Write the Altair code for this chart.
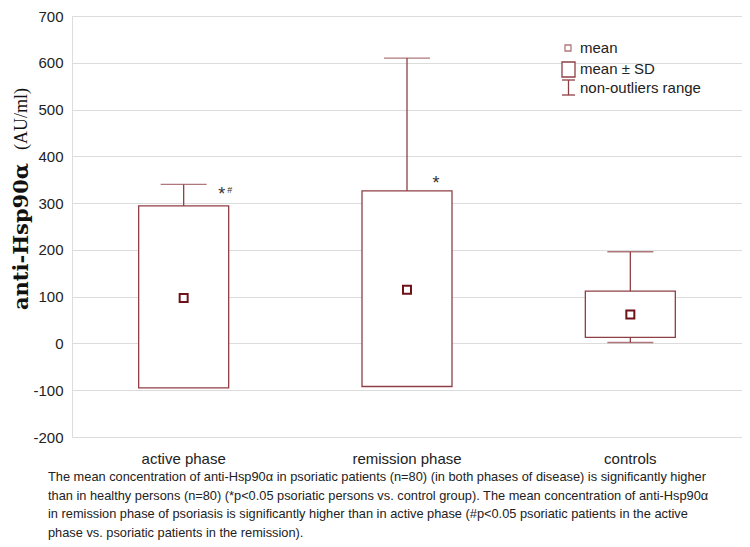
import altair as alt
import pandas as pd

# ---- data ----
categories = ["active phase", "remission phase", "controls"]
means = [97, 115, 62]
sd_low = [-95, -92, 13]
sd_high = [294, 326, 112]
range_min = [4, 4, 2]
range_max = [340, 610, 196]

y_ticks = [-200, -100, 0, 100, 200, 300, 400, 500, 600, 700]

caption_lines = [
    "The mean concentration of anti-Hsp90\u03b1 in psoriatic patients (n=80) (in both phases of disease) is significantly higher",
    "than in healthy persons (n=80) (*p<0.05 psoriatic persons vs. control group). The mean concentration of anti-Hsp90\u03b1",
    "in remission phase of psoriasis is significantly higher than in active phase (#p<0.05 psoriatic patients in the active",
    "phase vs. psoriatic patients in the remission).",
]

df = pd.DataFrame({
    "cat": categories,
    "mean": means,
    "sd_low": sd_low,
    "sd_high": sd_high,
    "rmin": range_min,
    "rmax": range_max,
})

W, H = 670, 421
BOX = "#8e3f45"
MEAN = "#6e1218"
FONT = "Liberation Sans"

x = alt.X("cat:N", sort=categories, title=None,
          scale=alt.Scale(paddingInner=0, paddingOuter=0),
          axis=alt.Axis(labelAngle=0, labelFontSize=15, labelFont=FONT, labelColor="#222",
                        labelPadding=14, ticks=False, domain=False, grid=False))
yscale = alt.Scale(domain=[-200, 700], nice=False, zero=False)
y = alt.Y("rmin:Q", scale=yscale, title=None,
          axis=alt.Axis(values=y_ticks, labelFontSize=15, labelFont=FONT, labelColor="#222",
                        labelExpr="'' + datum.value",
                        labelPadding=9, ticks=False, domain=False, gridColor="#dcdcdc",
                        gridWidth=1))

base = alt.Chart(df)

whisker = base.mark_rule(color=BOX, strokeWidth=1.3).encode(x=x, y=y, y2="rmax:Q")
cap_top = base.mark_tick(color=BOX, size=46, thickness=1.3).encode(
    x=x, y=alt.Y("rmax:Q", scale=yscale))
cap_bot = base.mark_tick(color=BOX, size=46, thickness=1.3).encode(
    x=x, y=alt.Y("rmin:Q", scale=yscale))
box = base.mark_bar(fill="white", stroke=BOX, strokeWidth=1.3, size=90).encode(
    x=x, y=alt.Y("sd_low:Q", scale=yscale), y2="sd_high:Q")
mean_pt = base.mark_point(shape="square", size=64, filled=False, fill="white",
                          fillOpacity=1, color=MEAN, strokeWidth=2, opacity=1).encode(
    x=x, y=alt.Y("mean:Q", scale=yscale))

# significance marks
annot_df = pd.DataFrame({"cat": ["active phase", "remission phase"], "val": [325, 350]})
star_active = alt.Chart(annot_df[annot_df.cat == "active phase"]).mark_text(
    text="*", fontSize=18, font=FONT, color="#333", dx=38, dy=4).encode(
    x=x, y=alt.Y("val:Q", scale=yscale))
hash_active = alt.Chart(annot_df[annot_df.cat == "active phase"]).mark_text(
    text="#", fontSize=9, font=FONT, color="#333", dx=46, dy=-1).encode(
    x=x, y=alt.Y("val:Q", scale=yscale))
star_rem = alt.Chart(annot_df[annot_df.cat == "remission phase"]).mark_text(
    text="*", fontSize=18, font=FONT, color="#333", dx=29, dy=4).encode(
    x=x, y=alt.Y("val:Q", scale=yscale))

one = alt.Data(values=[{"k": 1}])

# legend (inside plot, top right)
leg_sq = alt.Chart(one).mark_point(shape="square", size=36, filled=False, color=BOX,
                                   strokeWidth=1.3).encode(x=alt.value(496), y=alt.value(32))
leg_rect = alt.Chart(one).mark_rect(fill="white", stroke=BOX, strokeWidth=1.3).encode(
    x=alt.value(490), x2=alt.value(503), y=alt.value(46), y2=alt.value(61))
leg_wv = alt.Chart(one).mark_rule(color=BOX, strokeWidth=1.3).encode(
    x=alt.value(496.5), y=alt.value(64), y2=alt.value(79))
leg_wt = alt.Chart(one).mark_rule(color=BOX, strokeWidth=1.3).encode(
    x=alt.value(490), x2=alt.value(503), y=alt.value(64))
leg_wb = alt.Chart(one).mark_rule(color=BOX, strokeWidth=1.3).encode(
    x=alt.value(490), x2=alt.value(503), y=alt.value(79))
leg_txt = [
    alt.Chart(one).mark_text(text=t, align="left", baseline="middle", fontSize=15,
                             font=FONT, color="#222").encode(x=alt.value(508), y=alt.value(yy))
    for t, yy in [("mean", 32), ("mean \u00b1 SD", 53), ("non-outliers range", 72)]
]

# y-axis title (bold serif part + regular part)
ytitle_b = alt.Chart(one).mark_text(text="anti-Hsp90\u03b1", angle=270, align="left",
                                    baseline="middle", fontSize=21, fontWeight="bold",
                                    font="DejaVu Serif", color="#111").encode(
    x=alt.value(-50), y=alt.value(294))
ytitle_r = alt.Chart(one).mark_text(text="(AU/ml)", angle=270, align="left",
                                    baseline="middle", fontSize=18,
                                    font="Liberation Serif", color="#111").encode(
    x=alt.value(-50), y=alt.value(134))

caption = alt.Chart(one).mark_text(text=caption_lines, align="left", baseline="top",
                                   fontSize=12.8, lineHeight=18.7, font=FONT,
                                   color="#222").encode(x=alt.value(-24), y=alt.value(455))

chart = alt.layer(
    whisker, cap_top, cap_bot, box, mean_pt, star_active, hash_active, star_rem,
    leg_sq, leg_rect, leg_wv, leg_wt, leg_wb, *leg_txt, ytitle_b, ytitle_r, caption,
).properties(
    width=W, height=H,
    padding={"left": 64, "top": 8, "right": 0, "bottom": 106},
    autosize=alt.AutoSizeParams(type="none"),
).configure_view(stroke="#444", strokeWidth=1).configure(background="white")

chart.save("out.html", embed_options={"renderer": "svg", "actions": False})
